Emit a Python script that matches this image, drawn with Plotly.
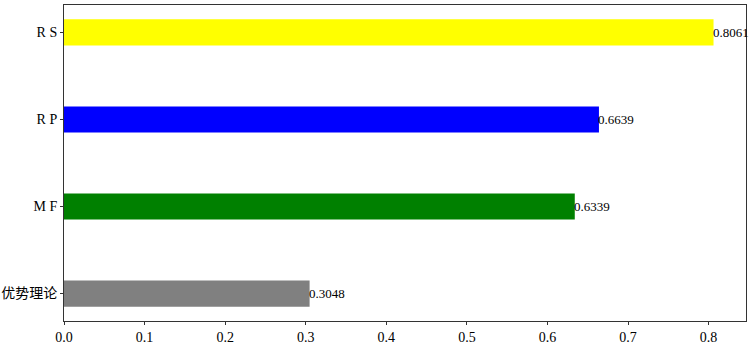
import plotly.graph_objects as go

categories = ["优势理论", "M F", "R P", "R S"]
values = [0.3048, 0.6339, 0.6639, 0.8061]
colors = ["#808080", "#008000", "#0000ff", "#ffff00"]
labels = ["0.3048", "0.6339", "0.6639", "0.8061"]
xticks = [0.0, 0.1, 0.2, 0.3, 0.4, 0.5, 0.6, 0.7, 0.8]

font_fam = "Liberation Serif, Times New Roman, Noto Sans CJK SC, serif"

fig = go.Figure()
fig.add_trace(go.Bar(
    y=list(range(len(categories))), x=values, orientation="h",
    width=0.3, marker=dict(color=colors, line=dict(width=0)),
    hoverinfo="skip",
))
for i, (v, t) in enumerate(zip(values, labels)):
    fig.add_annotation(x=v, y=i, text=t, xanchor="left", yanchor="middle",
                       showarrow=False, xshift=-3,
                       font=dict(family=font_fam, size=13, color="black"))

fig.update_layout(
    width=749, height=344,
    margin=dict(l=64, r=3, t=5, b=23, autoexpand=False),
    plot_bgcolor="white", paper_bgcolor="white",
    showlegend=False,
    font=dict(family=font_fam, size=14, color="black"),
)
fig.update_xaxes(
    range=[0, 0.8464], tickvals=xticks, ticktext=[f"{t:.1f}" for t in xticks],
    showgrid=False, zeroline=False, showline=True, linecolor="#333333", linewidth=1,
    mirror=True, ticks="outside", ticklen=3, tickcolor="#333333",
    tickfont=dict(family=font_fam, size=14), automargin=False,
)
fig.update_yaxes(
    range=[-0.315, 3.315], tickvals=list(range(len(categories))), ticktext=categories,
    showgrid=False, zeroline=False, showline=True, linecolor="#333333", linewidth=1,
    mirror=True, ticks="outside", ticklen=3, tickcolor="#333333",
    tickfont=dict(family=font_fam, size=14), automargin=False,
)
fig.write_html("out.html", config={"displayModeBar": False},
               post_script="document.body.style.margin='0';document.body.style.padding='0';")
